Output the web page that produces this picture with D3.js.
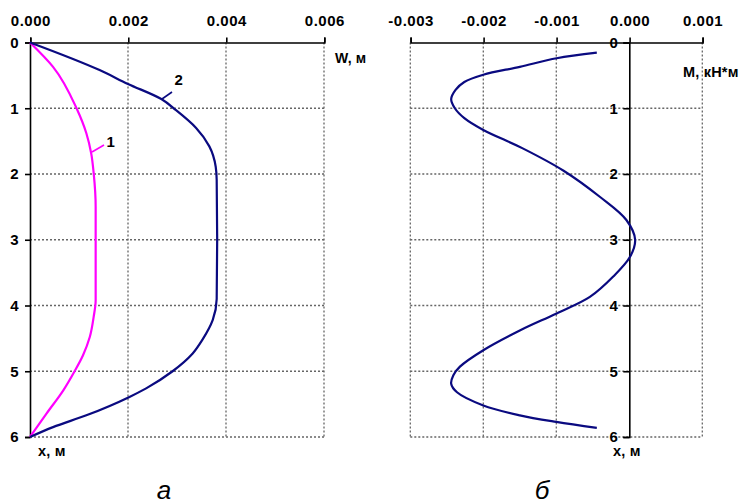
<!DOCTYPE html>
<html><head><meta charset="utf-8">
<script src="https://cdn.jsdelivr.net/npm/d3@7"></script>
<style>
html,body{margin:0;padding:0;background:#fff;}
svg text{font-family:"Liberation Sans",Arial,sans-serif;}
.tick text{font-weight:bold;font-size:15px;letter-spacing:0.5px;fill:#000;}
</style></head>
<body>
<svg id="c" width="744" height="504"></svg>
<script>
// ---- data ----
const wTicks = [0, 0.002, 0.004, 0.006];
const mTicks = [-0.003, -0.002, -0.001, 0, 0.001];
const depthTicks = [0, 1, 2, 3, 4, 5, 6];

// curve 1 (magenta): depth x, deflection W
const depth1 = [0, 0.37, 1.0, 1.38, 1.69, 1.99, 2.5, 3.0, 3.5, 3.92, 4.17, 4.48, 4.76, 5.0, 5.29, 5.64, 6.0];
const w1     = [0, 0.00047, 0.00095, 0.00115, 0.00125, 0.0013, 0.00134, 0.00134, 0.00134, 0.00134, 0.0013, 0.00122, 0.00108, 0.00091, 0.00068, 0.00034, 0];

// curve 2 (navy)
const depth2 = [0, 0.42, 0.63, 0.86, 1.03, 1.30, 1.58, 1.89, 2.09, 3.0, 3.9, 4.22, 4.52, 4.73, 5.0, 5.26, 5.39, 5.67, 5.85, 6.0];
const w2     = [0, 0.00142, 0.002, 0.00268, 0.00298, 0.00339, 0.00366, 0.00379, 0.00381, 0.00382, 0.00381, 0.00373, 0.00352, 0.00332, 0.00291, 0.00237, 0.00203, 0.00115, 0.00047, 0];

// bending moment M
const depthM = [0.155, 0.24, 0.37, 0.49, 0.60, 0.72, 0.86, 1.0, 1.15, 1.33, 1.61, 1.95, 2.35, 2.70, 3.0, 3.26, 3.56, 3.87, 4.12, 4.38, 4.68, 4.93, 5.06, 5.19, 5.32, 5.52, 5.67, 5.77, 5.86];
const mVals  = [-0.000445, -0.000995, -0.0015, -0.002, -0.00226, -0.00238, -0.00244, -0.00239, -0.00226, -0.002, -0.00146, -0.0009, -0.0004, -0.00004, 0.00008, 0.00001, -0.00022, -0.00054, -0.000995, -0.0015, -0.002, -0.00232, -0.00241, -0.00244, -0.00236, -0.002, -0.0015, -0.001, -0.000445];

// ---- drawing ----
const svg = d3.select("#c");
const yTop = 42.5, yBot = 437;
const y = d3.scaleLinear().domain([0, 6]).range([yTop, yBot]);
const xW = d3.scaleLinear().domain([0, 0.006]).range([30, 324]);
const xM = d3.scaleLinear().domain([-0.003, 0.001]).range([410.3, 702.3]);

const gridStyle = sel => sel.attr("stroke", "#666").attr("stroke-width", 1.3).attr("stroke-dasharray", "2,2").attr("fill", "none");

// Left chart grid
const gL = svg.append("g");
gL.selectAll("line.v").data(wTicks.filter(d => d > 0)).join("line")
  .attr("x1", d => xW(d)).attr("x2", d => xW(d)).attr("y1", y(0)).attr("y2", y(6)).call(gridStyle);
gL.selectAll("line.h").data(depthTicks.filter(d => d > 0)).join("line")
  .attr("x1", xW(0)).attr("x2", xW(0.006)).attr("y1", d => y(d)).attr("y2", d => y(d)).call(gridStyle);

// Right chart grid
const gR = svg.append("g");
gR.selectAll("line.v").data(mTicks.filter(d => d !== 0)).join("line")
  .attr("x1", d => xM(d)).attr("x2", d => xM(d)).attr("y1", y(0)).attr("y2", y(6)).call(gridStyle);
gR.selectAll("line.h").data(depthTicks.filter(d => d > 0)).join("line")
  .attr("x1", xM(-0.003)).attr("x2", xM(0.001)).attr("y1", d => y(d)).attr("y2", d => y(d)).call(gridStyle);

// Axes
const fmt = d => d3.format(".3f")(d).replace("\u2212", "-");
const axStyle = g => { g.select(".domain").attr("stroke", "#000").attr("stroke-width", 1.6);
  g.selectAll(".tick line").attr("stroke", "#000").attr("stroke-width", 1.6); };

svg.append("g").attr("transform", `translate(0.3,${yTop})`)
  .call(d3.axisTop(xW).tickValues(wTicks).tickFormat(fmt).tickSize(5).tickPadding(12))
  .call(axStyle);
svg.append("g").attr("transform", `translate(${xW(0)},0)`)
  .call(d3.axisLeft(y).tickValues(depthTicks).tickFormat(d3.format("d")).tickSize(5).tickPadding(6))
  .call(axStyle);

svg.append("g").attr("transform", `translate(0.3,${yTop})`)
  .call(d3.axisTop(xM).tickValues(mTicks).tickFormat(fmt).tickSize(5).tickPadding(12))
  .call(axStyle);
svg.append("g").attr("transform", `translate(${xM(0)},0)`)
  .call(d3.axisLeft(y).tickValues(depthTicks).tickFormat(d3.format("d")).tickSize(6).tickPadding(5))
  .call(axStyle);

svg.selectAll(".tick text").attr("font-family", "Liberation Sans, Arial, sans-serif");

// Curves
const lineW = d3.line().curve(d3.curveMonotoneY);
const lineM = d3.line().curve(d3.curveCatmullRom.alpha(0.5));
svg.append("path").attr("d", lineW(depth1.map((d, i) => [xW(w1[i]), y(d)])))
  .attr("fill", "none").attr("stroke", "#ff00ff").attr("stroke-width", 2.2);
svg.append("path").attr("d", lineW(depth2.map((d, i) => [xW(w2[i]), y(d)])))
  .attr("fill", "none").attr("stroke", "#0a0a80").attr("stroke-width", 2.2);
svg.append("path").attr("d", lineM(depthM.map((d, i) => [xM(mVals[i]), y(d)])))
  .attr("fill", "none").attr("stroke", "#0a0a80").attr("stroke-width", 2.2);

// Curve labels with leaders
svg.append("line").attr("x1", 162).attr("y1", 99).attr("x2", 172).attr("y2", 92)
  .attr("stroke", "#0a0a80").attr("stroke-width", 1.6);
svg.append("text").attr("x", 174.5).attr("y", 85).text("2")
  .attr("font-weight", "bold").attr("font-size", 15);
svg.append("line").attr("x1", 92).attr("y1", 152).attr("x2", 104).attr("y2", 145)
  .attr("stroke", "#ff00ff").attr("stroke-width", 1.6);
svg.append("text").attr("x", 106.5).attr("y", 147).text("1")
  .attr("font-weight", "bold").attr("font-size", 15);

// Axis titles
const title = (x, yy, t, fs) => svg.append("text").attr("x", x).attr("y", yy).text(t)
  .attr("font-weight", "bold").attr("font-size", fs).attr("letter-spacing", "0.2px");
title(335, 63, "W, м", 14);
title(683, 77, "M, кН*м", 14.5);
title(38, 456, "x, м", 14.5);
title(613, 456, "x, м", 14.5);

// Captions
const cap = (x, t) => svg.append("text").attr("x", x).attr("y", 499).text(t)
  .attr("text-anchor", "middle").attr("font-family", "Liberation Serif, Times New Roman, serif")
  .attr("font-style", "italic").attr("font-size", 26);
cap(164, "а");
cap(542, "б");
</script>
</body></html>
